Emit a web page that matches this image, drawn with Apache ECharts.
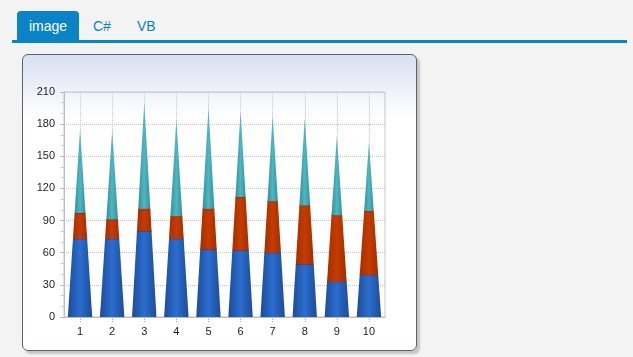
<!DOCTYPE html>
<html><head><meta charset="utf-8">
<script src="https://cdn.jsdelivr.net/npm/echarts@6/dist/echarts.min.js"></script>
<style>
html,body{margin:0;padding:0;width:633px;height:357px;overflow:hidden;background:#f3f3f3;font-family:Arial,"Liberation Sans",sans-serif;}
.line{position:absolute;left:12px;top:40px;width:615px;height:3px;background:#0a84c6;}
.tab{position:absolute;top:11px;height:30px;line-height:30px;font-size:14px;text-align:center;}
.tab.active{left:17px;width:62px;background:#0a84c6;color:#fff;border-radius:4px 4px 0 0;}
.tab.c1{left:93px;color:#0a84c6;}
.tab.c2{left:137px;color:#0a84c6;}
.panel{position:absolute;left:22px;top:54px;width:395px;height:297px;box-sizing:border-box;border:1px solid #5b6370;border-radius:6px;background:linear-gradient(to bottom,#d8e0f1 0px,#ffffff 62px,#ffffff 100%);box-shadow:3px 3px 2px #c6c6c6;}
#chart{position:absolute;left:0;top:0;width:633px;height:357px;}
</style></head>
<body>
<div class="line"></div>
<div class="tab active">image</div>
<div class="tab c1">C#</div>
<div class="tab c2">VB</div>
<div class="panel"></div>
<div id="chart"></div>
<script>
const categories = ['1','2','3','4','5','6','7','8','9','10'];
const blueValues = [73, 73, 80, 73, 63, 62, 60, 49, 33, 39];
const redValues  = [24, 18, 21, 21, 38, 50, 48, 55, 62, 60];
const tealValues = [78, 83, 99, 90, 94, 80, 80, 82, 74, 64];
const yTicks = {min: 0, max: 210, interval: 30};

const seriesList = [blueValues, redValues, tealValues];
const totals = categories.map((c, i) => seriesList.reduce((a, s) => a + s[i], 0));
const palettes = [
  {edge:'#1c4c98', mid:'#2c6dcf', line:'#183f80'},
  {edge:'#a52e00', mid:'#c43c02', line:'#8a2600'},
  {edge:'#33919e', mid:'#4eb7c2', line:'#2b7d88'}
];

function makeRender(pal, drawTopLine){
  return function(params, api){
    const i = api.value(0), s = api.value(1), e = api.value(2), t = api.value(3);
    const base = api.coord([i, 0]);
    const half = api.size([1, 0])[0] * 0.76 / 2;
    const y0 = api.coord([i, s])[1], y1 = api.coord([i, e])[1];
    const w0 = half * (1 - s / t), w1 = half * (1 - e / t);
    const cx = base[0];
    const grad = new echarts.graphic.LinearGradient(0, 0, 1, 0, [
      {offset:0, color:pal.edge},{offset:0.5, color:pal.mid},{offset:1, color:pal.edge}
    ]);
    const children = [{
      type:'polygon',
      shape:{points:[[cx - w0, y0],[cx + w0, y0],[cx + w1, y1],[cx - w1, y1]]},
      style:{fill:grad}
    }];
    if (drawTopLine) {
      children.push({type:'line', shape:{x1:cx - w1, y1:y1, x2:cx + w1, y2:y1}, style:{stroke:pal.line, lineWidth:1}});
    }
    return {type:'group', children};
  };
}

const series = [];
const cum = categories.map(() => 0);
seriesList.forEach((vals, k) => {
  const data = vals.map((v, i) => {
    const item = [i, cum[i], cum[i] + v, totals[i]];
    cum[i] += v;
    return item;
  });
  series.push({
    type:'custom', name:'S' + (k + 1), renderItem: makeRender(palettes[k], k < 2),
    data, encode:{x:0, y:[1,2]}, z:3
  });
});

const chart = echarts.init(document.getElementById('chart'), null, {renderer:'canvas'});
chart.setOption({
  animation:false,
  backgroundColor:'transparent',
  grid:{left:64, top:92, width:321, height:225, show:true, borderColor:'#c2c6ce', borderWidth:1, backgroundColor:'transparent'},
  xAxis:{
    type:'category', data:categories, boundaryGap:true,
    axisLine:{show:true, lineStyle:{color:'#b8bcc6', width:1}},
    axisTick:{show:true, alignWithLabel:true, length:5, lineStyle:{color:'#aaaaaa', type:'dotted'}},
    axisLabel:{color:'#1a1a2a', fontSize:11, margin:9, fontFamily:'Arial, Liberation Sans, sans-serif'},
    splitLine:{show:true, alignWithLabel:true, lineStyle:{color:'#c4c4c4', type:'dotted'}}
  },
  yAxis:{
    type:'value', min:yTicks.min, max:yTicks.max, interval:yTicks.interval,
    axisLine:{show:true, lineStyle:{color:'#b8bcc6', width:1}},
    axisTick:{show:true, length:4, lineStyle:{color:'#b8bcc6'}},
    minorTick:{show:true, splitNumber:3, length:3, lineStyle:{color:'#c4c8d0'}},
    axisLabel:{color:'#1a1a2a', fontSize:11, margin:9, fontFamily:'Arial, Liberation Sans, sans-serif'},
    splitLine:{show:true, lineStyle:{color:'#c4c4c4', type:'dotted'}}
  },
  series
});
</script>
</body></html>
